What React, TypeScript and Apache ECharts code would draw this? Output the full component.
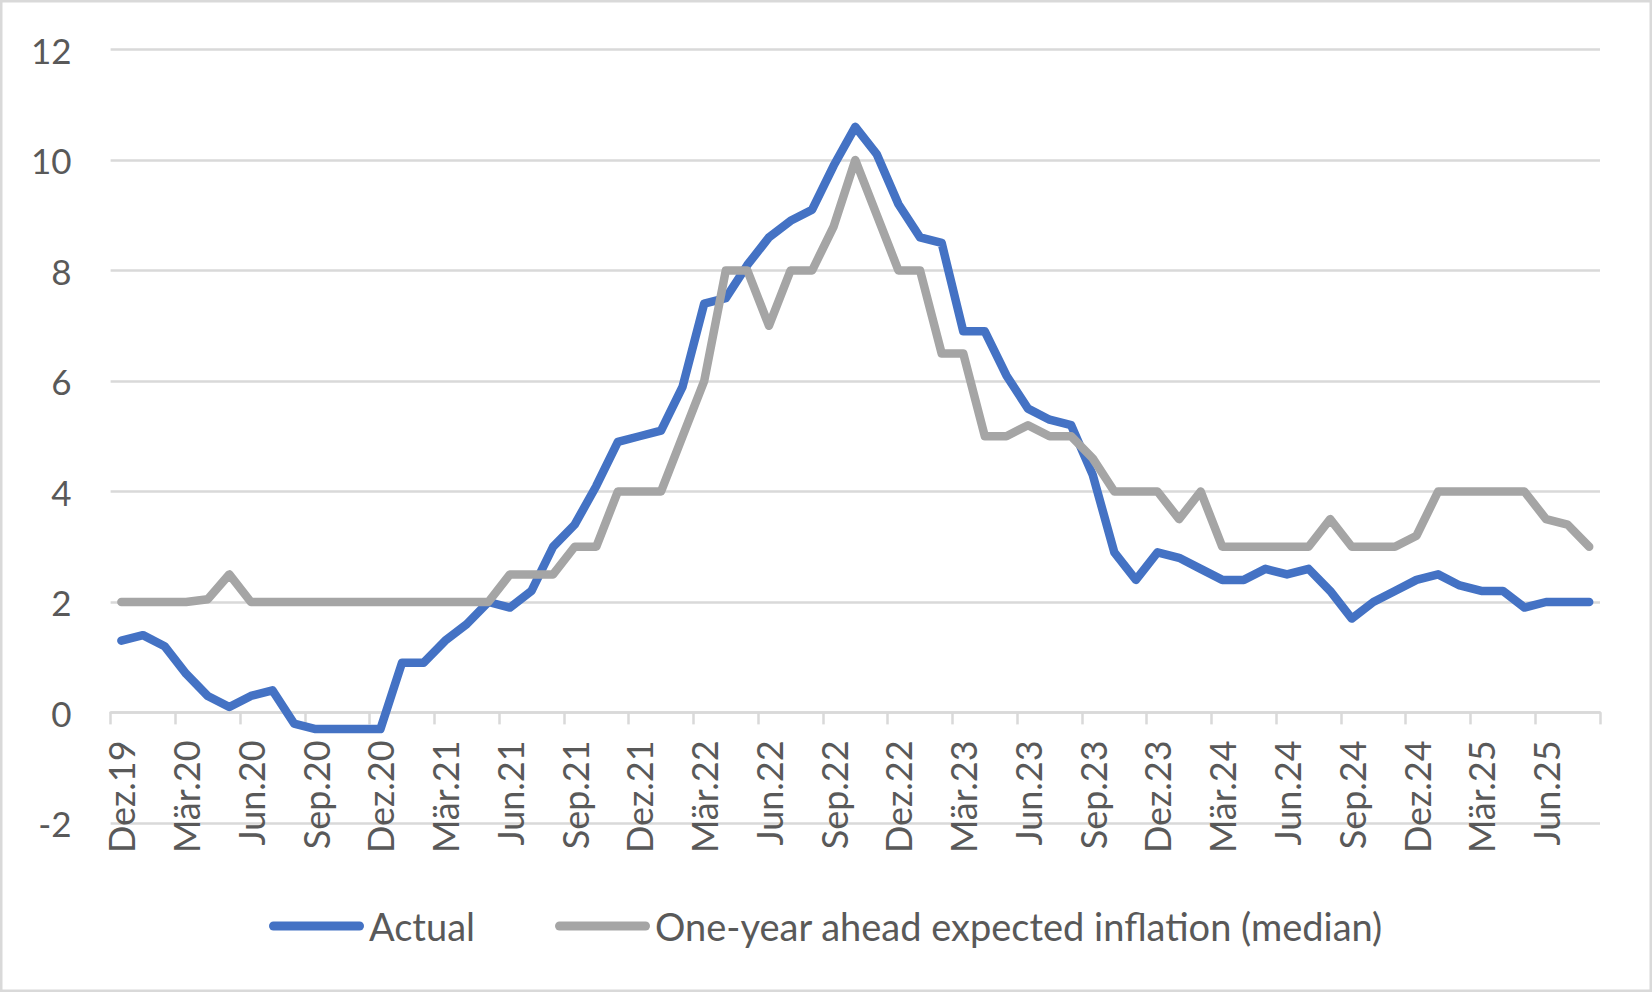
import React, { useEffect, useRef } from "react";
import * as echarts from "echarts";

const categories = [
  "Dez.19",
  "Jan.20", "Feb.20", "Mär.20", "Apr.20", "Mai.20", "Jun.20", "Jul.20", "Aug.20", "Sep.20", "Okt.20", "Nov.20", "Dez.20",
  "Jan.21", "Feb.21", "Mär.21", "Apr.21", "Mai.21", "Jun.21", "Jul.21", "Aug.21", "Sep.21", "Okt.21", "Nov.21", "Dez.21",
  "Jan.22", "Feb.22", "Mär.22", "Apr.22", "Mai.22", "Jun.22", "Jul.22", "Aug.22", "Sep.22", "Okt.22", "Nov.22", "Dez.22",
  "Jan.23", "Feb.23", "Mär.23", "Apr.23", "Mai.23", "Jun.23", "Jul.23", "Aug.23", "Sep.23", "Okt.23", "Nov.23", "Dez.23",
  "Jan.24", "Feb.24", "Mär.24", "Apr.24", "Mai.24", "Jun.24", "Jul.24", "Aug.24", "Sep.24", "Okt.24", "Nov.24", "Dez.24",
  "Jan.25", "Feb.25", "Mär.25", "Apr.25", "Mai.25", "Jun.25", "Jul.25", "Aug.25",
];

const actual = [
  1.3,
  1.4, 1.2, 0.7, 0.3, 0.1, 0.3, 0.4, -0.2, -0.3, -0.3, -0.3, -0.3,
  0.9, 0.9, 1.3, 1.6, 2.0, 1.9, 2.2, 3.0, 3.4, 4.1, 4.9, 5.0,
  5.1, 5.9, 7.4, 7.5, 8.1, 8.6, 8.9, 9.1, 9.9, 10.6, 10.1, 9.2,
  8.6, 8.5, 6.9, 6.9, 6.1, 5.5, 5.3, 5.2, 4.3, 2.9, 2.4, 2.9,
  2.8, 2.6, 2.4, 2.4, 2.6, 2.5, 2.6, 2.2, 1.7, 2.0, 2.2, 2.4,
  2.5, 2.3, 2.2, 2.2, 1.9, 2.0, 2.0, 2.0,
];

const expected = [
  2.0,
  2.0, 2.0, 2.0, 2.05, 2.5, 2.0, 2.0, 2.0, 2.0, 2.0, 2.0, 2.0,
  2.0, 2.0, 2.0, 2.0, 2.0, 2.5, 2.5, 2.5, 3.0, 3.0, 4.0, 4.0,
  4.0, 5.0, 6.0, 8.0, 8.0, 7.0, 8.0, 8.0, 8.8, 10.0, 9.0, 8.0,
  8.0, 6.5, 6.5, 5.0, 5.0, 5.2, 5.0, 5.0, 4.6, 4.0, 4.0, 4.0,
  3.5, 4.0, 3.0, 3.0, 3.0, 3.0, 3.0, 3.5, 3.0, 3.0, 3.0, 3.2,
  4.0, 4.0, 4.0, 4.0, 4.0, 3.5, 3.4, 3.0,
];

const seriesNames = ["Actual", "One-year ahead expected inflation (median)"];
const seriesColors = ["#4472C4", "#A5A5A5"];

const FONT = "Lato, 'Open Sans', sans-serif";
const TEXT = "#595959";
const GRID = "#D9D9D9";

export default function App() {
  const ref = useRef<HTMLDivElement>(null);

  useEffect(() => {
    document.body.style.margin = "0";
    if (!ref.current) return;
    const chart = echarts.init(ref.current, undefined, { renderer: "svg" });
    const legendIcon = "path://M4.5,0 L90.5,0 A4.5,4.5 0 0 1 90.5,9 L4.5,9 A4.5,4.5 0 0 1 4.5,0 Z";
    chart.setOption({
      animation: false,
      backgroundColor: "#FFFFFF",
      textStyle: { fontFamily: FONT },
      grid: { left: 110.6, right: 52, top: 49.5, bottom: 169, containLabel: false },
      graphic: [
        {
          type: "rect",
          shape: { x: 1.25, y: 1.25, width: 1649.5, height: 989.5 },
          style: { fill: "none", stroke: GRID, lineWidth: 2.5 },
          silent: true,
        },
      ],
      legend: {
        data: seriesNames.map((n) => ({ name: n, icon: legendIcon })),
        left: "center",
        top: 902,
        itemWidth: 95,
        itemHeight: 9,
        itemGap: 80,
        textStyle: { fontSize: 38, color: TEXT, fontFamily: FONT },
      },
      xAxis: {
        type: "category",
        data: categories,
        boundaryGap: true,
        offset: -110.6,
        axisLine: { show: true, onZero: false, lineStyle: { color: GRID, width: 2.5 } },
        axisTick: { show: true, interval: 2, length: 12, lineStyle: { color: GRID, width: 2.5 } },
        axisLabel: {
          interval: 2,
          rotate: 90,
          margin: 28,
          fontSize: 36,
          color: TEXT,
          fontFamily: FONT,
        },
        splitLine: { show: false },
      },
      yAxis: {
        type: "value",
        min: -2,
        max: 12,
        interval: 2,
        axisLine: { show: false },
        axisTick: { show: false },
        axisLabel: { fontSize: 35, color: TEXT, margin: 39, fontFamily: FONT },
        splitLine: { show: true, lineStyle: { color: GRID, width: 2.5 } },
      },
      series: [
        {
          name: seriesNames[0],
          type: "line",
          data: actual,
          symbol: "none",
          color: seriesColors[0],
          lineStyle: { width: 8.5, color: seriesColors[0], cap: "round", join: "round" },
        },
        {
          name: seriesNames[1],
          type: "line",
          data: expected,
          symbol: "none",
          color: seriesColors[1],
          lineStyle: { width: 8.5, color: seriesColors[1], cap: "round", join: "round" },
        },
      ],
    });
    return () => chart.dispose();
  }, []);

  return <div ref={ref} style={{ width: 1652, height: 992 }} />;
}
